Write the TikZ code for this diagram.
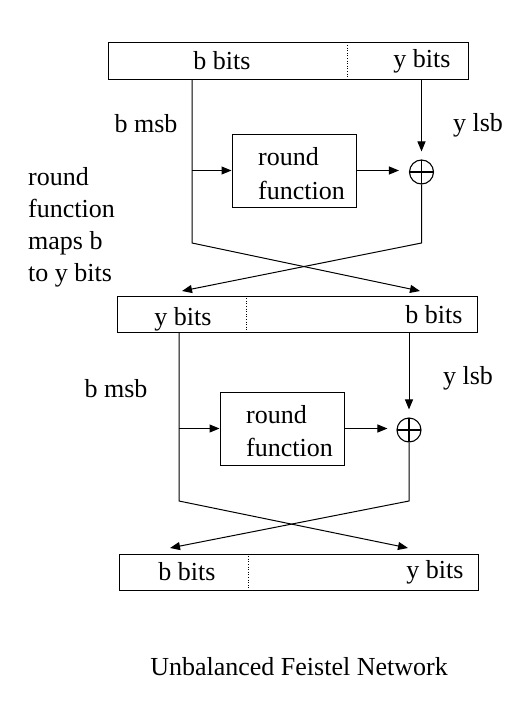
\documentclass[tikz,border=0pt]{standalone}
\usepackage{fontspec}
\setmainfont{Liberation Serif}
\usetikzlibrary{arrows.meta,calc}
\begin{document}
\begin{tikzpicture}[x=1pt,y=-1pt,
  ln/.style={line width=1pt,black},
  arr/.style={ln,-{Triangle[length=10pt,width=8pt]}},
  regbox/.style={draw,line width=1pt,minimum height=36pt,inner sep=0pt},
  fbox/.style={draw,line width=1pt,minimum width=124pt,minimum height=73pt,inner sep=0pt},
  xorc/.style={draw,line width=1.1pt,circle,minimum size=24pt,inner sep=0pt,
    path picture={\draw[line width=1.1pt] (path picture bounding box.north) -- (path picture bounding box.south)
      (path picture bounding box.west) -- (path picture bounding box.east);}},
  lbl/.style={inner sep=0pt,anchor=base,font=\fontsize{26}{32}\selectfont},
  divl/.style={dotted,line width=0.6pt}]
\useasboundingbox (0,0) rectangle (532,709);

% registers
\node[regbox,minimum width=360pt] (r0) at (288,61) {};
\node[regbox,minimum width=360pt] (r1) at (297,314) {};
\node[regbox,minimum width=359pt] (r2) at (298.5,572) {};
\coordinate (d0) at (347,61);
\coordinate (d1) at (246,314);
\coordinate (d2) at (248,572);
\draw[divl] (d0 |- r0.north) -- (d0 |- r0.south);
\draw[divl] (d1 |- r1.north) -- (d1 |- r1.south);
\draw[divl] (d2 |- r2.north) -- (d2 |- r2.south);

\node[lbl] (t0a) at (222,70) {b bits};
\node[lbl] (t0b) at (422,67) {y bits};
\node[lbl] (t1a) at (183,325) {y bits};
\node[lbl] (t1b) at (434,323) {b bits};
\node[lbl] (t2a) at (187,580) {b bits};
\node[lbl] (t2b) at (435,578) {y bits};

% round functions
\node[fbox] (f1) at (294,170.5) {};
\node[lbl,anchor=base west] (f1a) at (258,165) {round};
\node[lbl,anchor=base west] (f1b) at (258,199) {function};
\node[fbox] (f2) at (282,428.5) {};
\node[lbl,anchor=base west] (f2a) at (246,423) {round};
\node[lbl,anchor=base west] (f2b) at (246,456) {function};

% xors
\node[xorc] (x1) at (421.5,172) {};
\node[xorc] (x2) at (409,430) {};

% stage 1 wiring
\coordinate (a1) at (192,243);
\coordinate (b1) at (421.5,243);
\coordinate (t1r) at (420,291);
\coordinate (t1l) at (182,291);
\draw[arr] (a1 |- r0.south) -- (a1) -- (t1r);
\draw[arr] (a1 |- f1.west) -- (f1.west);
\draw[arr,shorten >=10pt] (f1.east) -- (f1.east -| x1.west);
\draw[arr,shorten >=8pt] (x1 |- r0.south) -- (x1.north);
\draw[arr] (x1.south) -- (b1) -- (t1l);

% stage 2 wiring
\coordinate (a2) at (179,501);
\coordinate (b2) at (409,501);
\coordinate (t2r) at (408,548);
\coordinate (t2l) at (170,548);
\draw[arr] (a2 |- r1.south) -- (a2) -- (t2r);
\draw[arr] (a2 |- f2.west) -- (f2.west);
\draw[arr,shorten >=9pt] (f2.east) -- (f2.east -| x2.west);
\draw[arr,shorten >=8pt] (x2 |- r1.south) -- (x2.north);
\draw[arr] (x2.south) -- (b2) -- (t2l);

% side labels
\node[lbl] (m1) at (146,132) {b msb};
\node[lbl] (y1) at (478,131) {y lsb};
\node[lbl] (m2) at (116,397) {b msb};
\node[lbl] (y2) at (468,384) {y lsb};
\node[lbl,anchor=base west] (n1) at (28,185) {round};
\node[lbl,anchor=base west] (n2) at (28,217) {function};
\node[lbl,anchor=base west] (n3) at (28,249) {maps b};
\node[lbl,anchor=base west] (n4) at (28,281) {to y bits};

\node[lbl] (title) at (299,675) {Unbalanced Feistel Network};
\end{tikzpicture}
\end{document}
